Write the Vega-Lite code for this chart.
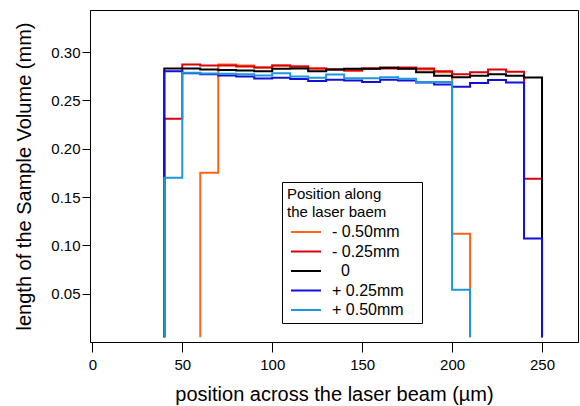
{
  "$schema": "https://vega.github.io/schema/vega-lite/v6.json",
  "width": 488,
  "height": 332,
  "autosize": {"type": "none"},
  "padding": {"left": 90, "top": 10, "right": 2, "bottom": 64},
  "background": "white",
  "config": {
    "font": "Liberation Sans",
    "view": {"stroke": "black", "strokeWidth": 1},
    "axis": {"grid": false, "domainColor": "black", "tickColor": "black", "labelColor": "black", "titleColor": "black", "titleFontWeight": "normal", "labelFontSize": 15, "titleFontSize": 20, "labelFont": "Liberation Sans", "titleFont": "Liberation Sans"}
  },
  "data": {"values": [
    {"s":"- 0.50mm","i":0,"x":60,"y":0.005},
    {"s":"- 0.50mm","i":1,"x":60,"y":0.175},
    {"s":"- 0.50mm","i":2,"x":70,"y":0.287},
    {"s":"- 0.50mm","i":3,"x":80,"y":0.286},
    {"s":"- 0.50mm","i":4,"x":90,"y":0.284},
    {"s":"- 0.50mm","i":5,"x":100,"y":0.286},
    {"s":"- 0.50mm","i":6,"x":110,"y":0.285},
    {"s":"- 0.50mm","i":7,"x":120,"y":0.283},
    {"s":"- 0.50mm","i":8,"x":130,"y":0.282},
    {"s":"- 0.50mm","i":9,"x":140,"y":0.281},
    {"s":"- 0.50mm","i":10,"x":150,"y":0.283},
    {"s":"- 0.50mm","i":11,"x":160,"y":0.284},
    {"s":"- 0.50mm","i":12,"x":170,"y":0.283},
    {"s":"- 0.50mm","i":13,"x":180,"y":0.282},
    {"s":"- 0.50mm","i":14,"x":190,"y":0.279},
    {"s":"- 0.50mm","i":15,"x":200,"y":0.112},
    {"s":"- 0.50mm","i":16,"x":210,"y":0.005},

    {"s":"- 0.25mm","i":0,"x":40,"y":0.005},
    {"s":"- 0.25mm","i":1,"x":40,"y":0.231},
    {"s":"- 0.25mm","i":2,"x":50,"y":0.287},
    {"s":"- 0.25mm","i":3,"x":60,"y":0.286},
    {"s":"- 0.25mm","i":4,"x":70,"y":0.286},
    {"s":"- 0.25mm","i":5,"x":80,"y":0.285},
    {"s":"- 0.25mm","i":6,"x":90,"y":0.284},
    {"s":"- 0.25mm","i":7,"x":100,"y":0.286},
    {"s":"- 0.25mm","i":8,"x":110,"y":0.285},
    {"s":"- 0.25mm","i":9,"x":120,"y":0.283},
    {"s":"- 0.25mm","i":10,"x":130,"y":0.282},
    {"s":"- 0.25mm","i":11,"x":140,"y":0.281},
    {"s":"- 0.25mm","i":12,"x":150,"y":0.283},
    {"s":"- 0.25mm","i":13,"x":160,"y":0.283},
    {"s":"- 0.25mm","i":14,"x":170,"y":0.284},
    {"s":"- 0.25mm","i":15,"x":180,"y":0.283},
    {"s":"- 0.25mm","i":16,"x":190,"y":0.28},
    {"s":"- 0.25mm","i":17,"x":200,"y":0.277},
    {"s":"- 0.25mm","i":18,"x":210,"y":0.279},
    {"s":"- 0.25mm","i":19,"x":220,"y":0.282},
    {"s":"- 0.25mm","i":20,"x":230,"y":0.2795},
    {"s":"- 0.25mm","i":21,"x":240,"y":0.169},
    {"s":"- 0.25mm","i":22,"x":250,"y":0.005},

    {"s":"0","i":0,"x":40,"y":0.005},
    {"s":"0","i":1,"x":40,"y":0.283},
    {"s":"0","i":2,"x":50,"y":0.283},
    {"s":"0","i":3,"x":60,"y":0.282},
    {"s":"0","i":4,"x":70,"y":0.2815},
    {"s":"0","i":5,"x":80,"y":0.281},
    {"s":"0","i":6,"x":90,"y":0.28},
    {"s":"0","i":7,"x":100,"y":0.2827},
    {"s":"0","i":8,"x":110,"y":0.283},
    {"s":"0","i":9,"x":120,"y":0.28},
    {"s":"0","i":10,"x":130,"y":0.282},
    {"s":"0","i":11,"x":140,"y":0.2826},
    {"s":"0","i":12,"x":150,"y":0.2826},
    {"s":"0","i":13,"x":160,"y":0.2837},
    {"s":"0","i":14,"x":170,"y":0.2826},
    {"s":"0","i":15,"x":180,"y":0.279},
    {"s":"0","i":16,"x":190,"y":0.2755},
    {"s":"0","i":17,"x":200,"y":0.274},
    {"s":"0","i":18,"x":210,"y":0.2755},
    {"s":"0","i":19,"x":220,"y":0.277},
    {"s":"0","i":20,"x":230,"y":0.2755},
    {"s":"0","i":21,"x":240,"y":0.2737},
    {"s":"0","i":22,"x":250,"y":0.005},

    {"s":"+ 0.25mm","i":0,"x":40,"y":0.005},
    {"s":"+ 0.25mm","i":1,"x":40,"y":0.28},
    {"s":"+ 0.25mm","i":2,"x":50,"y":0.278},
    {"s":"+ 0.25mm","i":3,"x":60,"y":0.277},
    {"s":"+ 0.25mm","i":4,"x":70,"y":0.2758},
    {"s":"+ 0.25mm","i":5,"x":80,"y":0.2747},
    {"s":"+ 0.25mm","i":6,"x":90,"y":0.2725},
    {"s":"+ 0.25mm","i":7,"x":100,"y":0.2734},
    {"s":"+ 0.25mm","i":8,"x":110,"y":0.272},
    {"s":"+ 0.25mm","i":9,"x":120,"y":0.27},
    {"s":"+ 0.25mm","i":10,"x":130,"y":0.2713},
    {"s":"+ 0.25mm","i":11,"x":140,"y":0.2706},
    {"s":"+ 0.25mm","i":12,"x":150,"y":0.269},
    {"s":"+ 0.25mm","i":13,"x":160,"y":0.2713},
    {"s":"+ 0.25mm","i":14,"x":170,"y":0.2706},
    {"s":"+ 0.25mm","i":15,"x":180,"y":0.2685},
    {"s":"+ 0.25mm","i":16,"x":190,"y":0.2665},
    {"s":"+ 0.25mm","i":17,"x":200,"y":0.264},
    {"s":"+ 0.25mm","i":18,"x":210,"y":0.268},
    {"s":"+ 0.25mm","i":19,"x":220,"y":0.271},
    {"s":"+ 0.25mm","i":20,"x":230,"y":0.2686},
    {"s":"+ 0.25mm","i":21,"x":240,"y":0.107},
    {"s":"+ 0.25mm","i":22,"x":250,"y":0.005},

    {"s":"+ 0.50mm","i":0,"x":40,"y":0.005},
    {"s":"+ 0.50mm","i":1,"x":40,"y":0.17},
    {"s":"+ 0.50mm","i":2,"x":50,"y":0.2785},
    {"s":"+ 0.50mm","i":3,"x":60,"y":0.2778},
    {"s":"+ 0.50mm","i":4,"x":70,"y":0.2775},
    {"s":"+ 0.50mm","i":5,"x":80,"y":0.277},
    {"s":"+ 0.50mm","i":6,"x":90,"y":0.2758},
    {"s":"+ 0.50mm","i":7,"x":100,"y":0.278},
    {"s":"+ 0.50mm","i":8,"x":110,"y":0.2747},
    {"s":"+ 0.50mm","i":9,"x":120,"y":0.2734},
    {"s":"+ 0.50mm","i":10,"x":130,"y":0.2768},
    {"s":"+ 0.50mm","i":11,"x":140,"y":0.273},
    {"s":"+ 0.50mm","i":12,"x":150,"y":0.273},
    {"s":"+ 0.50mm","i":13,"x":160,"y":0.274},
    {"s":"+ 0.50mm","i":14,"x":170,"y":0.2723},
    {"s":"+ 0.50mm","i":15,"x":180,"y":0.269},
    {"s":"+ 0.50mm","i":16,"x":190,"y":0.269},
    {"s":"+ 0.50mm","i":17,"x":200,"y":0.054},
    {"s":"+ 0.50mm","i":18,"x":210,"y":0.005}
  ]},
  "mark": {"type": "line", "interpolate": "step-after", "strokeWidth": 2, "clip": true},
  "encoding": {
    "x": {"field": "x", "type": "quantitative",
      "scale": {"domain": [-1.3, 270], "nice": false, "zero": false},
      "axis": {"values": [0, 50, 100, 150, 200, 250], "tickSize": 10, "labelPadding": 5, "title": "position across the laser beam (µm)", "titlePadding": 12}},
    "y": {"field": "y", "type": "quantitative",
      "scale": {"domain": [0, 0.3435], "nice": false, "zero": false},
      "axis": {"values": [0.05, 0.1, 0.15, 0.2, 0.25, 0.3], "format": ".2f", "tickSize": 8, "labelPadding": 2, "title": "length of the Sample Volume (mm)", "titlePadding": 16}},
    "color": {"field": "s", "type": "nominal",
      "scale": {"domain": ["- 0.50mm", "- 0.25mm", "0", "+ 0.25mm", "+ 0.50mm"], "range": ["#ff6414", "#d8000c", "#000000", "#1010d8", "#1e96dc"]},
      "legend": {"orient": "none", "legendX": 192, "legendY": 172, "title": ["Position along", "the laser baem"],
        "titleFontSize": 15, "titleFontWeight": "normal", "titleColor": "black", "titleLineHeight": 18, "titlePadding": 4,
        "labelFontSize": 16, "labelColor": "black",
        "labelExpr": "datum.label == '0' ? '\u200d\u00a0\u00a00' : datum.label + '\u00a0\u00a0\u00a0\u200d'",
        "symbolType": "M-3,0H3", "symbolSize": 100, "symbolStrokeWidth": 2, "symbolOffset": 11, "labelOffset": 18, "rowPadding": 3.5,
        "strokeColor": "black", "fillColor": "white", "padding": 5}},
    "order": {"field": "i", "type": "quantitative"}
  }
}
